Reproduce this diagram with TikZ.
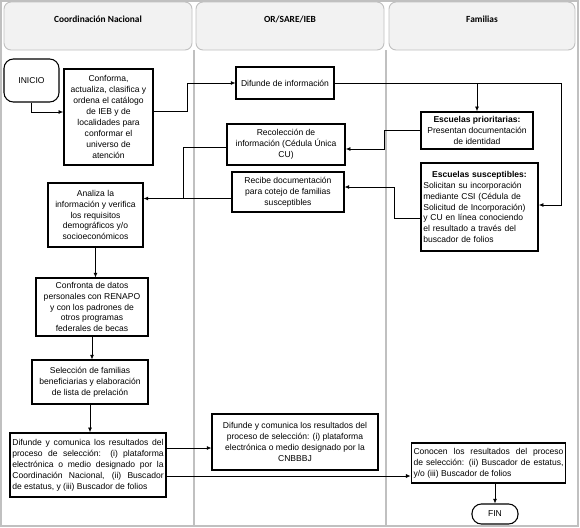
\documentclass[tikz,border=0pt]{standalone}
\usepackage{fontspec}
\setmainfont{Liberation Sans}
\newfontfamily\lanefont{Carlito}
\usepackage{tikz}
\usetikzlibrary{positioning,arrows.meta,calc}
\definecolor{lanefill}{RGB}{242,242,242}
\definecolor{lanegray}{RGB}{192,192,192}
\tikzset{
  lanehead/.style={draw=lanegray, fill=lanefill, rounded corners=6pt, line width=0.8pt},
  lanetitle/.style={font=\lanefont\fontsize{8}{10}\selectfont\bfseries},
  lanesep/.style={draw=lanegray, line width=1.2pt},
  procbox/.style={draw=black, line width=0.9pt, inner sep=2pt,
                  font=\fontsize{7.3}{9.3}\selectfont, align=center},
  thickbox/.style={procbox, line width=1.3pt},
  termnode/.style={draw=black, line width=0.9pt, rounded corners=8pt,
                   font=\fontsize{7.3}{9.3}\selectfont},
  conn/.style={line width=0.7pt},
  arr/.style={conn, -{Latex[length=4pt,width=3.5pt]}}
}

\begin{document}
\begin{tikzpicture}[x=0.03cm, y=-0.03cm]
  \useasboundingbox (0,0) rectangle (580,528);

  % Lanes
  \draw[lanesep, line width=1pt] (1,1) rectangle (578,526);
  \draw[lanesep] (194,50) -- (194,526);
  \draw[lanesep] (386,50) -- (386,526);
  \draw[lanehead] (4,2) rectangle (192,50);
  \draw[lanehead] (196,2) rectangle (384,50);
  \draw[lanehead] (389,2) rectangle (575,50);
  \node[lanetitle] (hcn) at (98,19) {Coordinación Nacional};
  \node[lanetitle] (hor) at (290,19) {OR/SARE/IEB};
  \node[lanetitle] (hfam) at (482,19) {Familias};

  % Coordinacion Nacional
  \node[termnode, minimum width=1.65cm, minimum height=1.29cm] (inicio) at (31.5,80.5) {INICIO};
  \node[thickbox, minimum width=2.67cm, minimum height=2.88cm] (conforma) at (108.5,117)
        {Conforma,\\actualiza, clasifica y\\ordena el catálogo\\de IEB y de\\localidades para\\conformar el\\universo de\\atención};
  \node[procbox, minimum width=2.85cm, minimum height=1.92cm] (analiza) at (95.5,215)
        {Analiza la\\información y verifica\\los requisitos\\demográficos y/o\\socioeconómicos};
  \node[procbox, minimum width=3.36cm, minimum height=1.74cm] (confronta) at (92,307)
        {Confronta de datos\\personales con RENAPO\\y con los padrones de\\otros programas\\federales de becas};
  \node[procbox, minimum width=3.48cm, minimum height=1.32cm] (selec) at (90,382)
        {Selección de familias\\beneficiarias y elaboración\\de lista de prelación};
  \node[thickbox, text width=4.54cm, minimum height=1.92cm, align=justify] (difcn) at (88,465)
        {Difunde y comunica los resultados del\linebreak
         proceso de selección: (i) plataforma\linebreak
         electrónica o medio designado por la\linebreak
         Coordinación Nacional, (ii) Buscador\linebreak
         de estatus, y (iii) Buscador de folios};

  % OR/SARE/IEB
  \node[procbox, minimum width=2.94cm, minimum height=0.96cm] (difinfo) at (285,83)
        {Difunde de información};
  \node[thickbox, minimum width=3.54cm, minimum height=1.23cm] (recol) at (286,144.5)
        {Recolección de\\información (Cédula Única\\CU)};
  \node[procbox, minimum width=3.36cm, minimum height=1.2cm] (recibe) at (288,192)
        {Recibe documentación\\para cotejo de familias\\susceptibles};
  \node[procbox, minimum width=4.98cm, minimum height=1.68cm] (difor) at (295,442)
        {Difunde y comunica los resultados del\\proceso de selección: (i) plataforma\\electrónica o medio designado por la\\CNBBBJ};

  % Familias
  \node[thickbox, minimum width=3.36cm, minimum height=1.11cm] (prior) at (477,130.5)
        {\textbf{Escuelas prioritarias:}\\Presentan documentación\\de identidad};
  \node[thickbox, text width=3.37cm, minimum height=2.64cm, align=left] (suscep) at (479.5,207)
        {\centering\textbf{Escuelas susceptibles:}\par
         \raggedright Solicitan su incorporación\\mediante CSI (Cédula de\\Solicitud de Incorporación)\\y CU en línea conociendo\\el resultado a través del\\buscador de folios};
  \node[procbox, text width=4.5cm, minimum height=1.2cm, align=justify] (conocen) at (488.5,463)
        {Conocen los resultados del proceso\linebreak
         de selección: (ii) Buscador de estatus,\linebreak
         y/o (iii) Buscador de folios};
  \node[termnode, minimum width=1.38cm, minimum height=0.6cm] (fin) at (495,514) {FIN};

  % Connectors
  \draw[arr] (inicio.south) |- ($(conforma.west)+(0,-5)$);
  \draw[arr] ($(conforma.east)+(0,-6)$) -- ++(34,0) |- (difinfo.west);
  \draw[arr] (difinfo.east) -| (prior.north);
  \draw[arr] (difinfo.east) -- ++(227,0) |- ($(suscep.east)+(0,-2)$);
  \draw[arr] (prior.west) -- ++(-36,0) |- ($(recol.east)+(0,4.5)$);
  \coordinate (rb) at ($(recibe.west)+(0,6.5)$);
  \draw[arr] (rb) -- (rb -| analiza.east);
  \draw[conn] ($(recol.west)+(0,3)$) -| ($(rb)+(-48,0)$);
  \draw[arr] ($(suscep.west)+(0,11)$) -- ++(-26,0) |- ($(recibe.east)+(0,-5)$);
  \draw[arr] (analiza.south) -- (analiza.south |- confronta.north);
  \draw[arr] (confronta.south) -- (confronta.south |- selec.north);
  \draw[arr] (selec.south) -- (selec.south |- difcn.north);
  \coordinate (dc1) at ($(difcn.east)+(0,-17)$);
  \draw[arr] (dc1) -- (dc1 -| difor.west);
  \coordinate (dc2) at ($(difcn.east)+(0,11)$);
  \draw[arr] (dc2) -- (dc2 -| conocen.west);
  \draw[arr] (fin.north |- conocen.south) -- (fin.north);
\end{tikzpicture}
\end{document}
